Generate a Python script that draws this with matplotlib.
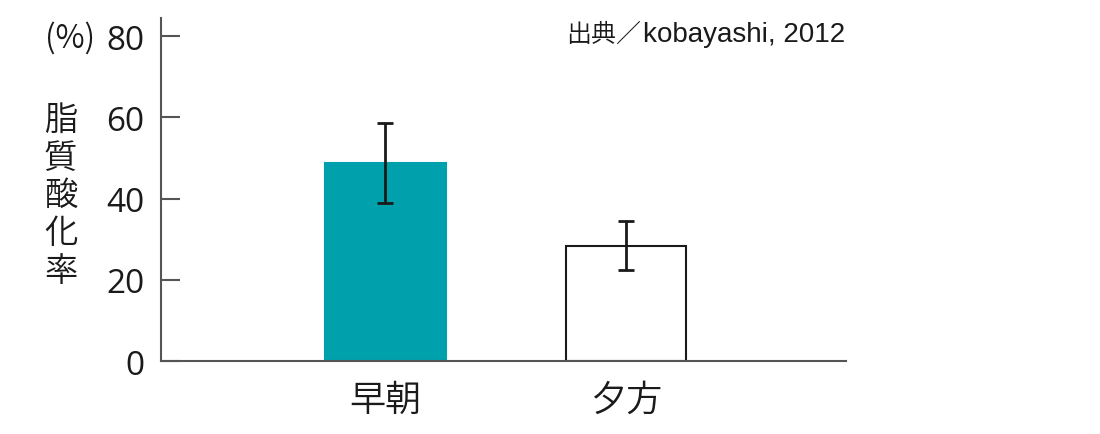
import matplotlib.pyplot as plt

plt.rcParams['font.family'] = ['Noto Sans CJK JP', 'DejaVu Sans']
plt.rcParams['font.weight'] = 350

categories = ['早朝', '夕方']
values = [48.8, 28.4]
errors = [9.9, 6.0]
colors = ['#00a1ac', 'white']
y_ticks = [0, 20, 40, 60, 80]
source_jp = '出典／'
source_en = 'kobayashi, 2012'

fig = plt.figure(figsize=(11, 4.35), dpi=100)
ax = fig.add_axes([0.1464, 0.1678, 0.6227, 0.7885])

x = list(range(len(categories)))
ax.bar(x, values, width=0.5, color=colors,
       edgecolor=['#00a1ac', '#1a1a1a'], linewidth=1.5, zorder=2)
ax.errorbar(x, values, yerr=errors, fmt='none', ecolor='#1a1a1a',
            elinewidth=2, capsize=6, capthick=2, zorder=3)

ax.set_xlim(-0.933, 1.915)
ax.set_ylim(0, 84.5)
ax.set_xticks(x)
ax.set_xticklabels(categories, fontsize=26)
ax.set_yticks(y_ticks)
ax.set_yticklabels([str(t) for t in y_ticks], fontsize=24,
                   family='Open Sans', weight='normal')

for s in ['top', 'right']:
    ax.spines[s].set_visible(False)
for s in ['left', 'bottom']:
    ax.spines[s].set_color('#555555')
    ax.spines[s].set_linewidth(1.5)
ax.tick_params(axis='y', direction='in', length=14, width=1.5,
               color='#555555', pad=12, labelcolor='#1a1a1a')
ax.tick_params(axis='x', length=0, pad=14, labelcolor='#1a1a1a')

# y label stacked vertically
fig.text(0.055, 0.55, '\n'.join('脂質酸化率'), fontsize=24, ha='center',
         va='center', linespacing=1.1, color='#1a1a1a')
fig.text(0.064, 0.91, '(%)', fontsize=23, ha='center', va='center',
         color='#1a1a1a')
fig.text(0.768, 0.92, source_en, fontsize=20, ha='right', va='center',
         color='#1a1a1a', family='Liberation Sans', weight='normal')
fig.text(0.583, 0.92, source_jp, fontsize=18, ha='right', va='center',
         color='#1a1a1a')

fig.savefig('out.png', dpi=100)
